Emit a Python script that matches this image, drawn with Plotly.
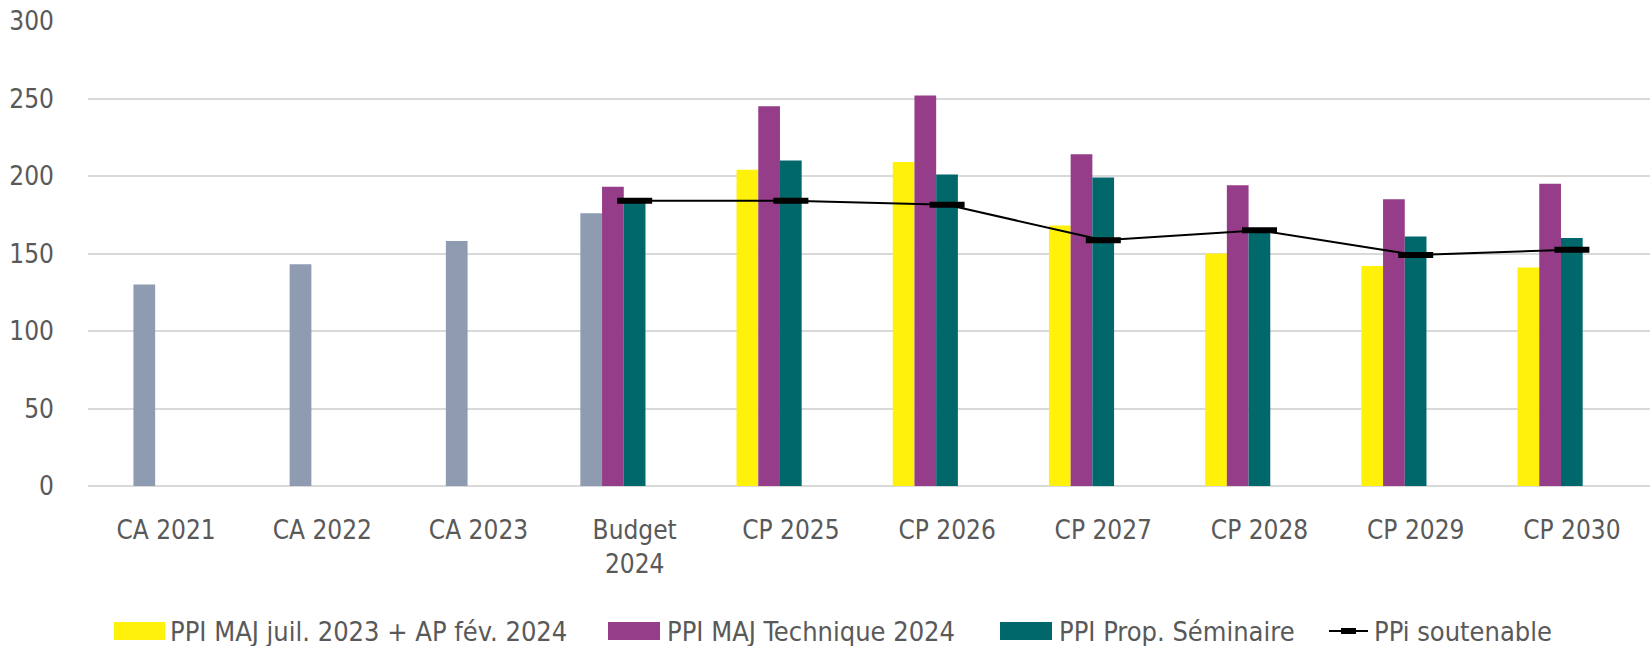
import plotly.graph_objects as go

categories = ["CA 2021", "CA 2022", "CA 2023", "Budget<br>2024", "CP 2025",
              "CP 2026", "CP 2027", "CP 2028", "CP 2029", "CP 2030"]
ca_real = [130, 143, 158, None, None, None, None, None, None, None]
ppi_juil = [None, None, None, 176, 204, 209, 168, 150, 142, 141]
ppi_tech = [None, None, None, 193, 245, 252, 214, 194, 185, 195]
ppi_sem = [None, None, None, 185, 210, 201, 199, 166, 161, 160]
ppi_sout = [None, None, None, 184, 184, 181.5, 158.5, 165, 149, 152.5]
names = ["PPI MAJ juil. 2023 + AP fév. 2024", "PPI MAJ Technique 2024",
         "PPI Prop. Séminaire", "PPi soutenable"]

GRAY = "#8E9BB0"
YELLOW = "#FFF10A"
PURPLE = "#953D89"
TEAL = "#00676B"
TXT = "#595959"
FONT = "DejaVu Sans Condensed, DejaVu Sans, sans-serif"

W, H = 1650, 646
L, R, T, B = 88, 0, 21, 160
PW, PH = W - L - R, H - T - B

x = list(range(len(categories)))
slot = 0.139
cols1 = [GRAY] * 4 + [YELLOW] * 6

fig = go.Figure()
fig.add_trace(go.Bar(x=x, y=ca_real, name="CA", marker=dict(color=GRAY, line_width=0),
                     offset=-0.209, width=slot, showlegend=False))
fig.add_trace(go.Bar(x=x, y=ppi_juil, name=names[0], marker=dict(color=cols1, line_width=0),
                     offset=-0.348, width=slot, showlegend=False))
fig.add_trace(go.Bar(x=x, y=ppi_tech, name=names[1], marker=dict(color=PURPLE, line_width=0),
                     offset=-0.209, width=slot, showlegend=False))
fig.add_trace(go.Bar(x=x, y=ppi_sem, name=names[2], marker=dict(color=TEAL, line_width=0),
                     offset=-0.070, width=slot, showlegend=False))
fig.add_trace(go.Scatter(x=x, y=ppi_sout, name=names[3], mode="lines+markers",
                         line=dict(color="black", width=2),
                         marker=dict(symbol="line-ew", size=25, color="black",
                                     line=dict(color="black", width=6)),
                         showlegend=False, cliponaxis=False))

# custom legend
def px2x(px):
    return (px - L) / PW

def py2y(py):
    return (H - B - py) / PH

leg_y = 631
swatches = [(114, 165, YELLOW, 168, names[0]),
            (608, 660, PURPLE, 665, names[1]),
            (1000, 1052, TEAL, 1057, names[2])]
shapes = []
annotations = []
for x0, x1, c, tx, nm in swatches:
    shapes.append(dict(type="rect", xref="paper", yref="paper",
                       x0=px2x(x0), x1=px2x(x1), y0=py2y(leg_y + 9), y1=py2y(leg_y - 9),
                       fillcolor=c, line=dict(width=0)))
    annotations.append(dict(x=px2x(tx), y=py2y(leg_y), xref="paper", yref="paper",
                            text=nm, showarrow=False, xanchor="left", yanchor="middle",
                            font=dict(family=FONT, size=27, color=TXT)))
shapes.append(dict(type="line", xref="paper", yref="paper",
                   x0=px2x(1329), x1=px2x(1368), y0=py2y(leg_y), y1=py2y(leg_y),
                   line=dict(color="black", width=2)))
shapes.append(dict(type="rect", xref="paper", yref="paper",
                   x0=px2x(1341), x1=px2x(1356), y0=py2y(leg_y + 3), y1=py2y(leg_y - 3),
                   fillcolor="black", line=dict(width=0)))
annotations.append(dict(x=px2x(1372), y=py2y(leg_y), xref="paper", yref="paper",
                        text=names[3], showarrow=False, xanchor="left", yanchor="middle",
                        font=dict(family=FONT, size=27, color=TXT)))

fig.update_layout(
    width=W, height=H,
    margin=dict(l=L, r=R, t=T, b=B, autoexpand=False),
    paper_bgcolor="white", plot_bgcolor="white",
    barmode="overlay",
    font=dict(family=FONT, size=26, color=TXT),
    shapes=shapes, annotations=annotations,
    xaxis=dict(range=[-0.5, len(categories) - 0.5], tickvals=x, ticktext=categories,
               showgrid=False, zeroline=False, ticks="", showline=False,
               ticklabelstandoff=26, tickfont=dict(family=FONT, size=26, color=TXT)),
    yaxis=dict(range=[0, 300], tickvals=[0, 50, 100, 150, 200, 250, 300],
               showgrid=True, gridcolor="#D9D9D9", gridwidth=1.5,
               zeroline=True, zerolinecolor="#D9D9D9", zerolinewidth=1.5,
               ticks="", showline=False, ticklabelstandoff=33,
               tickfont=dict(family=FONT, size=26, color=TXT)),
)

fig.write_html("out.html", config={"displayModeBar": False},
               post_script="document.body.style.margin='0';document.body.style.overflow='hidden';")
